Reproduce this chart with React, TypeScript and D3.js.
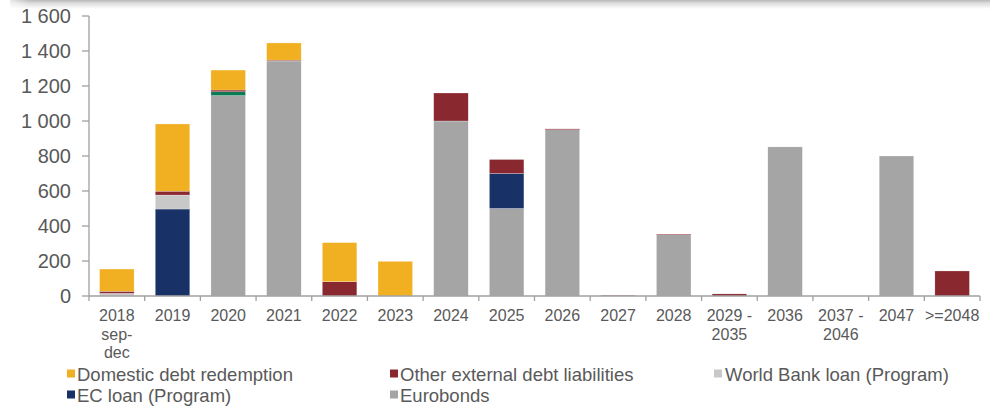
import React from "react";
import * as d3 from "d3";

const categories = ["2018\nsep-\ndec", "2019", "2020", "2021", "2022", "2023", "2024", "2025", "2026", "2027", "2028", "2029 -\n2035", "2036", "2037 -\n2046", "2047", ">=2048"];
const eurobonds = [0, 0, 1145, 1343, 0, 0, 1000, 500, 950, 0, 350, 0, 852, 0, 800, 0];
const ecLoan = [0, 497, 0, 0, 0, 0, 0, 200, 0, 0, 0, 0, 0, 0, 0, 0];
const worldBank = [15, 80, 0, 0, 0, 0, 0, 0, 0, 0, 0, 0, 0, 0, 0, 0];
const otherInstitutional = [0, 0, 22, 0, 0, 0, 0, 0, 0, 0, 0, 0, 0, 0, 0, 0];
const otherExternal = [12, 22, 10, 5, 82, 0, 160, 80, 5, 4, 4, 12, 0, 0, 0, 143];
const domestic = [127, 384, 114, 98, 223, 198, 0, 0, 0, 0, 0, 0, 0, 0, 0, 0];
const yTicks = [0, 200, 400, 600, 800, 1000, 1200, 1400, 1600];

const seriesDefs = [
  { key: "eurobonds", name: "Eurobonds", color: "#A5A5A5", values: eurobonds },
  { key: "ec", name: "EC loan (Program)", color: "#183267", values: ecLoan },
  { key: "wb", name: "World Bank loan (Program)", color: "#C8C8C8", values: worldBank },
  { key: "inst", name: "", color: "#0D7A56", values: otherInstitutional },
  { key: "other", name: "Other external debt liabilities", color: "#8A2830", values: otherExternal },
  { key: "domestic", name: "Domestic debt redemption", color: "#F0B022", values: domestic },
];

const legendItems = [
  { key: "domestic", col: 0, row: 0 },
  { key: "other", col: 1, row: 0 },
  { key: "wb", col: 2, row: 0 },
  { key: "ec", col: 0, row: 1 },
  { key: "eurobonds", col: 1, row: 1 },
];

const fmt = (v: number) => (v >= 1000 ? d3.format(",")(v).replace(",", " ") : String(v));

export default function App() {
  const W = 990, H = 406;
  const x0 = 89, x1 = 980, yTop = 16, yBase = 296;
  const x = d3.scaleBand<string>().domain(categories).range([x0, x1]).paddingInner(0.38).paddingOuter(0.19);
  const y = d3.scaleLinear().domain([0, 1600]).range([yBase, yTop]);
  const rows = categories.map((c, i) => {
    const o: any = { cat: c };
    seriesDefs.forEach((s) => (o[s.key] = s.values[i]));
    return o;
  });
  const stack = d3.stack<any>().keys(seriesDefs.map((s) => s.key));
  const stacked = stack(rows);
  const step = x.step();
  const textColor = "#595959";
  const axisColor = "#A0A0A0";
  const colX = [67, 390, 714];
  const colTx = [77, 400, 725];
  const rowY = [374, 395];
  return (
    <svg width={W} height={H} style={{ position: "absolute", left: 0, top: 0, background: "#fff" }} fontFamily="'Liberation Sans', Arial, sans-serif">
      <defs>
        <linearGradient id="shadow" x1="0" y1="0" x2="0" y2="1">
          <stop offset="0" stopColor="#b8b8b8" />
          <stop offset="0.35" stopColor="#dcdcdc" />
          <stop offset="1" stopColor="#ffffff" />
        </linearGradient>
        <linearGradient id="shadowL" x1="0" y1="0" x2="1" y2="0">
          <stop offset="0" stopColor="#fff" stopOpacity="1" />
          <stop offset="1" stopColor="#fff" stopOpacity="0" />
        </linearGradient>
      </defs>
      <rect x={0} y={0} width={W} height={H} fill="#fff" />
      <rect x={10} y={0} width={W - 10} height={9} fill="url(#shadow)" />
      <rect x={0} y={0} width={30} height={10} fill="url(#shadowL)" />
      {stacked.map((layer, li) => (
        <g key={layer.key} fill={seriesDefs[li].color}>
          {layer.map((d, i) =>
            d[1] - d[0] > 0 ? (
              <rect key={i} x={x(categories[i])} y={y(d[1])} width={x.bandwidth()} height={y(d[0]) - y(d[1])} stroke="#ffffff" strokeWidth={0.4} strokeOpacity={0.6} />
            ) : null
          )}
        </g>
      ))}
      {/* y axis */}
      <line x1={x0} x2={x0} y1={yTop} y2={yBase} stroke={axisColor} strokeWidth={1.3} />
      {yTicks.map((t) => (
        <g key={t}>
          <line x1={x0 - 7} x2={x0} y1={y(t)} y2={y(t)} stroke={axisColor} strokeWidth={1.3} />
          <text x={71} y={y(t)} dy="0.36em" textAnchor="end" fontSize={20} fill={textColor}>{fmt(t)}</text>
        </g>
      ))}
      {/* x axis */}
      <line x1={x0} x2={x1} y1={yBase} y2={yBase} stroke={axisColor} strokeWidth={1.3} />
      {d3.range(categories.length + 1).map((i) => (
        <line key={i} x1={x0 + i * step} x2={x0 + i * step} y1={yBase} y2={yBase + 5} stroke={axisColor} strokeWidth={1.3} />
      ))}
      {categories.map((c) => (
        <text key={c} x={(x(c) as number) + x.bandwidth() / 2} y={321} textAnchor="middle" fontSize={16} fill={textColor}>
          {c.split("\n").map((line, k) => (
            <tspan key={k} x={(x(c) as number) + x.bandwidth() / 2} dy={k === 0 ? 0 : 18.5}>{line}</tspan>
          ))}
        </text>
      ))}
      {/* legend */}
      {legendItems.map((it) => {
        const s = seriesDefs.find((d) => d.key === it.key)!;
        return (
          <g key={it.key}>
            <rect x={colX[it.col]} y={rowY[it.row] - 4.5} width={8} height={8} fill={s.color} />
            <text x={colTx[it.col]} y={rowY[it.row]} dy="0.36em" fontSize={18.5} fill={textColor}>{s.name}</text>
          </g>
        );
      })}
    </svg>
  );
}
